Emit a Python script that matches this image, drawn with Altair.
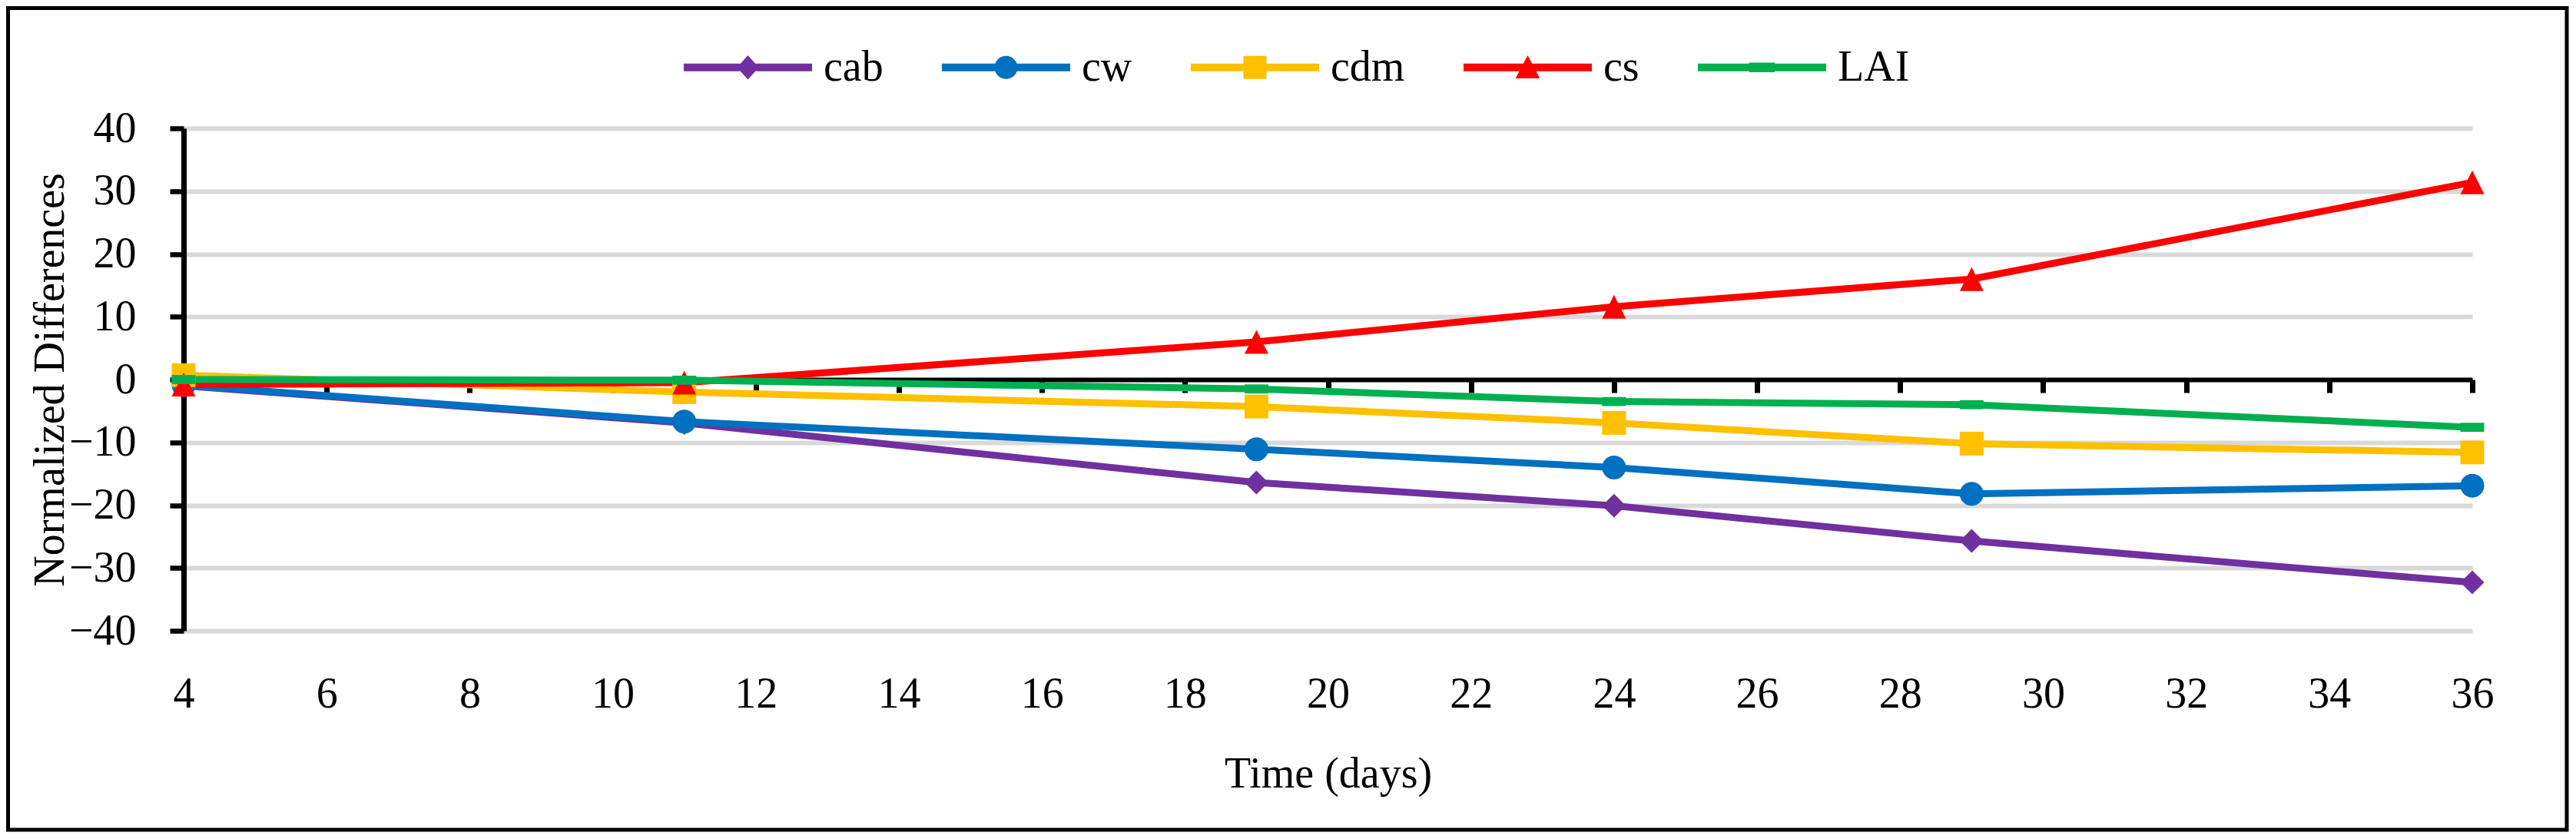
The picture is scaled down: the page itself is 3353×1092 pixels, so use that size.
import altair as alt
import pandas as pd

# ---- data ----
days = [4, 11, 19, 24, 29, 36]
series_names = ["cab", "cw", "cdm", "cs", "LAI"]
cab = [-1.0, -6.9, -16.4, -20.1, -25.7, -32.3]
cw = [-0.9, -6.7, -11.1, -14.0, -18.2, -16.9]
cdm = [0.7, -2.0, -4.3, -6.9, -10.2, -11.6]
cs = [-0.8, -0.5, 6.0, 11.6, 16.0, 31.4]
lai = [0.0, -0.1, -1.5, -3.5, -4.0, -7.6]
x_ticks = list(range(4, 37, 2))
y_ticks = list(range(-40, 41, 10))
grid_ticks = [v for v in y_ticks if v != 0]

colors = ["#7030A0", "#0070C0", "#FFC000", "#FF0000", "#00B050"]
marker_shapes = ["diamond", "circle", "square", "M0,-1L1,1L-1,1Z", "M-1,-0.38H1V0.38H-1Z"]
LINE = "M-1,-0.06H1V0.06H-1Z "
legend_shapes = [
    LINE + "M0,-0.19L0.17,0L0,0.19L-0.17,0Z",
    LINE + "M-0.18,0A0.18,0.18,0,1,1,0.18,0A0.18,0.18,0,1,1,-0.18,0Z",
    LINE + "M-0.18,-0.18H0.18V0.18H-0.18Z",
    LINE + "M0,-0.19L0.19,0.17L-0.19,0.17Z",
    LINE + "M-0.2,-0.075H0.2V0.075H-0.2Z",
]

values = {"cab": cab, "cw": cw, "cdm": cdm, "cs": cs, "LAI": lai}
rows = []
for s in series_names:
    for d, v in zip(days, values[s]):
        rows.append({"day": d, "value": v, "series": s})
df = pd.DataFrame(rows)

FONT = "Liberation Serif"
FS = 56
W, H = 2979, 654

x_scale = alt.Scale(domain=[4, 36], nice=False, zero=False)
y_scale = alt.Scale(domain=[-40, 40], nice=False, zero=False)
color_scale = alt.Scale(domain=series_names, range=colors)

label_axis = alt.Axis(orient="bottom", values=x_ticks, domain=False, ticks=False, tickSize=0,
                      grid=False, labelPadding=55, labelFlush=False, labelOverlap=False,
                      title="Time (days)", titleY=203, titleBaseline="alphabetic")
zero_axis = alt.Axis(orient="bottom", values=x_ticks, offset=-H / 2, domain=True,
                     domainColor="black", domainWidth=6, ticks=True, tickColor="black",
                     tickWidth=7, tickSize=17, labels=False, grid=False, title=None)
main_y_axis = alt.Axis(orient="left", values=y_ticks, grid=False, domainColor="black",
                       domainWidth=7, tickColor="black", tickWidth=6.5, tickSize=18,
                       labelPadding=44, title="Normalized Differences", titleX=-157,
                       titleY=H / 2, titleAngle=270, titleBaseline="alphabetic",
                       titleAlign="center")
grid_y_axis = alt.Axis(orient="left", values=grid_ticks, grid=True, gridColor="#d9d9d9",
                       gridWidth=6, domain=False, ticks=False, labels=False, title=None)

base = alt.Chart(df)

frame = alt.Chart(pd.DataFrame({"a": [0]})).mark_rect(
    filled=False, stroke="black", strokeWidth=5
).encode(
    x=alt.value(-228.5), x2=alt.value(3102), y=alt.value(-156.5), y2=alt.value(913)
)

lines = base.mark_line(strokeWidth=9).encode(
    x=alt.X("day:Q", scale=x_scale, axis=label_axis),
    y=alt.Y("value:Q", scale=y_scale, axis=main_y_axis),
    color=alt.Color("series:N", scale=color_scale, legend=None),
)

points = base.mark_point(filled=True, size=961, opacity=1, strokeWidth=0).encode(
    x=alt.X("day:Q", scale=x_scale, axis=zero_axis),
    y=alt.Y("value:Q", scale=y_scale, axis=grid_y_axis),
    color=alt.Color("series:N", scale=color_scale, legend=None),
    shape=alt.Shape("series:N", scale=alt.Scale(domain=series_names, range=marker_shapes),
                    legend=None),
)

leg = alt.Legend(orient="none", legendX=651, legendY=-163, direction="horizontal",
                 title=None, labelFont=FONT, labelFontSize=FS, labelColor="black",
                 symbolSize=27889, symbolStrokeWidth=0, columnPadding=76, labelOffset=15,
                 padding=0, symbolOpacity=1)

legend_layer = base.transform_filter("false").mark_point(
    filled=True, size=27889, opacity=1, strokeWidth=0
).encode(
    x=alt.X("day:Q", scale=x_scale, axis=None),
    y=alt.Y("value:Q", scale=y_scale, axis=None),
    color=alt.Color("series:N", scale=color_scale, legend=leg),
    shape=alt.Shape("series:N", scale=alt.Scale(domain=series_names, range=legend_shapes),
                    legend=leg),
)

chart = alt.layer(frame, lines, points, legend_layer).resolve_scale(
    color="independent", shape="independent"
).resolve_axis(
    x="independent", y="independent"
).properties(
    width=W, height=H,
    background="white",
    autosize=alt.AutoSizeParams(type="none"),
    padding={"left": 231, "top": 159, "right": 127, "bottom": 263},
).configure_view(stroke=None).configure_axis(
    labelFont=FONT, titleFont=FONT, labelFontSize=FS, titleFontSize=FS,
    labelColor="black", titleColor="black", titleFontWeight="normal"
)

chart.save("out.html", embed_options={"renderer": "svg", "actions": False})
